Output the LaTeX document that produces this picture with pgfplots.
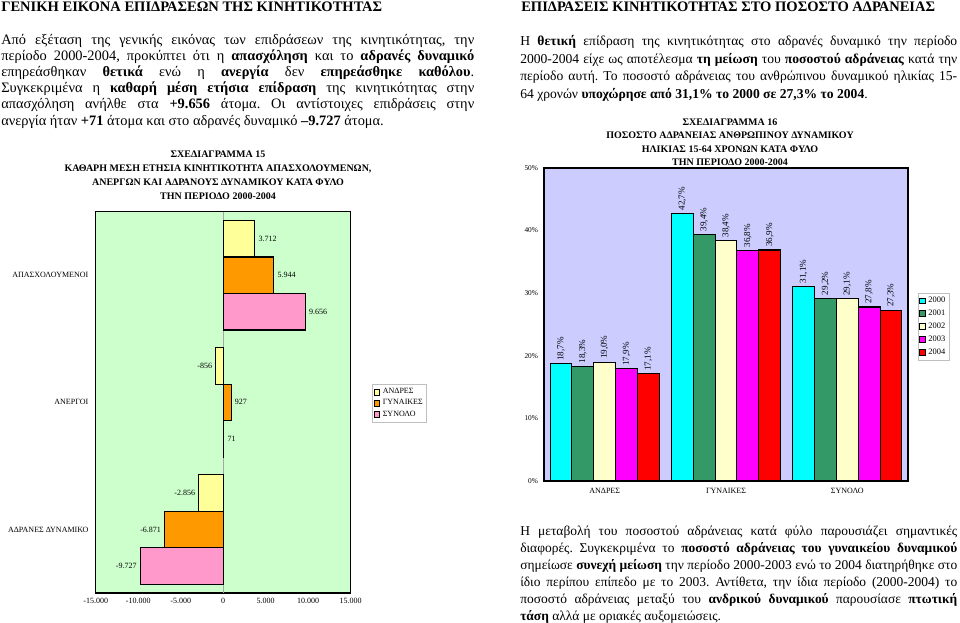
\documentclass[border=0pt]{standalone}
\usepackage{pgfplots}
\pgfplotsset{compat=1.18}
\usepackage{fontspec}
\setmainfont{Liberation Serif}
\frenchspacing
\definecolor{bgA}{HTML}{CCFFCC}
\definecolor{cAnd}{HTML}{FFFF99}
\definecolor{cGyn}{HTML}{FF9900}
\definecolor{cSyn}{HTML}{FF99CC}
\definecolor{bgB}{HTML}{CCCCFF}
\definecolor{cA}{HTML}{00FFFF}
\definecolor{cB}{HTML}{339966}
\definecolor{cC}{HTML}{FFFFCC}
\definecolor{cD}{HTML}{FF00FF}
\definecolor{cE}{HTML}{FF0000}
\newcommand{\Ls}[1]{\makebox[354.75pt][s]{#1}}
\newcommand{\Rs}[1]{\makebox[327.75pt][s]{#1}}
\begin{document}
\begin{tikzpicture}[x=0.75pt,y=-0.75pt]
\useasboundingbox (0,0) rectangle (960,622);
% ---------- page titles
\node[anchor=north west,inner sep=0,font=\fontsize{10.9}{12}\selectfont\bfseries] at (1,2) {ΓΕΝΙΚΗ ΕΙΚΟΝΑ ΕΠΙΔΡΑΣΕΩΝ ΤΗΣ ΚΙΝΗΤΙΚΟΤΗΤΑΣ};
\node[anchor=north west,inner sep=0,font=\fontsize{10.9}{12}\selectfont\bfseries] at (521,2) {ΕΠΙΔΡΑΣΕΙΣ ΚΙΝΗΤΙΚΟΤΗΤΑΣ ΣΤΟ ΠΟΣΟΣΤΟ ΑΔΡΑΝΕΙΑΣ};
% ---------- left paragraph
\node[anchor=north west,inner sep=0,align=left,font=\fontsize{10.8}{12.1}\selectfont] at (1,34) {%
\Ls{Από εξέταση της γενικής εικόνας των επιδράσεων της κινητικότητας, την}\\
\Ls{περίοδο 2000-2004, προκύπτει ότι η \textbf{απασχόληση} και το \textbf{αδρανές δυναμικό}}\\
\Ls{επηρεάσθηκαν \textbf{θετικά} ενώ η \textbf{ανεργία} δεν \textbf{επηρεάσθηκε καθόλου}.}\\
\Ls{Συγκεκριμένα η \textbf{καθαρή μέση ετήσια επίδραση} της κινητικότητας στην}\\
\Ls{απασχόληση ανήλθε στα \textbf{+9.656} άτομα. Οι αντίστοιχες επιδράσεις στην}\\
ανεργία ήταν \textbf{+71} άτομα και στο αδρανές δυναμικό \textbf{–9.727} άτομα.};
% ---------- right paragraph
\node[anchor=north west,inner sep=0,align=left,font=\fontsize{10.2}{13.3}\selectfont] at (520,35) {%
\Rs{Η \textbf{θετική} επίδραση της κινητικότητας στο αδρανές δυναμικό την περίοδο}\\
\Rs{2000-2004 είχε ως αποτέλεσμα \textbf{τη μείωση} του \textbf{ποσοστού αδράνειας} κατά την}\\
\Rs{περίοδο αυτή. Το ποσοστό αδράνειας του ανθρώπινου δυναμικού ηλικίας 15-}\\
64 χρονών \textbf{υποχώρησε από 31,1\% το 2000 σε 27,3\% το 2004}.};
% ---------- bottom right paragraph
\node[anchor=north west,inner sep=0,align=left,font=\fontsize{10.1}{12.75}\selectfont] at (520,525.5) {%
\Rs{Η μεταβολή του ποσοστού αδράνειας κατά φύλο παρουσιάζει σημαντικές}\\
\Rs{διαφορές. Συγκεκριμένα το \textbf{ποσοστό αδράνειας του γυναικείου δυναμικού}}\\
\Rs{σημείωσε \textbf{συνεχή μείωση} την περίοδο 2000-2003 ενώ το 2004 διατηρήθηκε στο}\\
\Rs{ίδιο περίπου επίπεδο με το 2003. Αντίθετα, την ίδια περίοδο (2000-2004) το}\\
\Rs{ποσοστό αδράνειας μεταξύ του \textbf{ανδρικού δυναμικού} παρουσίασε \textbf{πτωτική}}\\
\textbf{τάση} αλλά με οριακές αυξομειώσεις.};
% ---------- chart titles
\node[anchor=north,inner sep=0,align=center,font=\fontsize{7.5}{10.5}\selectfont\bfseries] at (218,150.5) {ΣΧΕΔΙΑΓΡΑΜΜΑ 15\\ΚΑΘΑΡΗ ΜΕΣΗ ΕΤΗΣΙΑ ΚΙΝΗΤΙΚΟΤΗΤΑ ΑΠΑΣΧΟΛΟΥΜΕΝΩΝ,\\ΑΝΕΡΓΩΝ ΚΑΙ ΑΔΡΑΝΟΥΣ ΔΥΝΑΜΙΚΟΥ ΚΑΤΑ ΦΥΛΟ\\ΤΗΝ ΠΕΡΙΟΔΟ 2000-2004};
\node[anchor=north,inner sep=0,align=center,font=\fontsize{7.5}{10}\selectfont\bfseries] at (730,118.5) {ΣΧΕΔΙΑΓΡΑΜΜΑ 16\\ΠΟΣΟΣΤΟ ΑΔΡΑΝΕΙΑΣ ΑΝΘΡΩΠΙΝΟΥ ΔΥΝΑΜΙΚΟΥ\\ΗΛΙΚΙΑΣ 15-64 ΧΡΟΝΩΝ ΚΑΤΑ ΦΥΛΟ\\ΤΗΝ ΠΕΡΙΟΔΟ 2000-2004};
% ---------- chart 15
\begin{axis}[
  at={(71.775pt,-158.775pt)}, anchor=north west,
  scale only axis, width=191.25pt, height=286pt,
  xmin=-15000, xmax=15000, ymin=-0.5, ymax=2.5,
  xbar, bar width=0.287,
  axis background/.style={fill=bgA},
  axis line style={black,line width=0.9pt},
  xtick={-15000,-10000,-5000,0,5000,10000,15000},
  scaled x ticks=false,
  /pgf/number format/.cd, 1000 sep={.}, assume math mode=true, /pgfplots/.cd,
  ytick={0,1,2},
  yticklabels={ΑΔΡΑΝΕΣ ΔΥΝΑΜΙΚΟ,ΑΝΕΡΓΟΙ,ΑΠΑΣΧΟΛΟΥΜΕΝΟΙ},
  major tick length=0pt,
  tick label style={font=\fontsize{6}{7}\selectfont},
  yticklabel style={xshift=-2pt},
  extra x ticks={0}, extra x tick labels={},
  extra x tick style={grid=major, major grid style={gray!70,line width=0.4pt}},
  point meta=x,
  nodes near coords,
  nodes near coords align={horizontal},
  every node near coord/.append style={font=\fontsize{6}{7}\selectfont, inner sep=2.5pt},
  legend style={at={(1.0836,0.548)}, anchor=north west, draw=gray!50,
    font=\fontsize{6}{7}\selectfont, legend cell align=left,
    inner sep=1pt, row sep=-1pt},
  legend image code/.code={\draw[#1,draw=black,line width=0.5pt] (0pt,-2.2pt) rectangle (4.4pt,2.2pt);},
  clip=false,
]
\addplot[fill=cAnd, draw=black, line width=0.8pt, bar shift=0.287] coordinates {(3712,2) (-856,1) (-2856,0)};
\addplot[fill=cGyn, draw=black, line width=0.8pt, bar shift=0] coordinates {(5944,2) (927,1) (-6871,0)};
\addplot[fill=cSyn, draw=black, line width=0.8pt, bar shift=-0.287] coordinates {(9656,2) (71,1) (-9727,0)};
\legend{ΑΝΔΡΕΣ,ΓΥΝΑΙΚΕΣ,ΣΥΝΟΛΟ}
\end{axis}
% ---------- chart 16
\begin{axis}[
  at={(408pt,-126pt)}, anchor=north west,
  scale only axis, width=273pt, height=234.75pt,
  xmin=-0.5, xmax=2.5, ymin=0, ymax=50,
  ybar, bar width=0.18,
  axis background/.style={fill=bgB},
  axis line style={black,line width=0.9pt},
  xtick={0,1,2}, xticklabels={ΑΝΔΡΕΣ,ΓΥΝΑΙΚΕΣ,ΣΥΝΟΛΟ},
  ytick={0,10,20,30,40,50},
  yticklabel={\pgfmathprintnumber{\tick}\%},
  /pgf/number format/assume math mode=true,
  major tick length=0pt,
  xticklabel style={font=\fontsize{6}{7}\selectfont, yshift=-2pt},
  yticklabel style={font=\fontsize{5.5}{6}\selectfont, xshift=-1pt},
  nodes near coords={\pgfmathprintnumber[fixed,fixed zerofill,precision=1,use comma]{\pgfplotspointmeta}\%},
  every node near coord/.append style={rotate=90, anchor=west, font=\fontsize{6.8}{7}\selectfont, inner sep=2pt},
  legend style={at={(1.0266,0.6016)}, anchor=north west, draw=gray!50,
    font=\fontsize{6.3}{7}\selectfont, legend cell align=left,
    inner sep=1pt, row sep=0pt},
  legend image code/.code={\draw[#1,draw=black,line width=0.5pt] (0pt,-2.2pt) rectangle (4.4pt,2.2pt);},
  clip=false,
]
\addplot[fill=cA, draw=black, line width=0.8pt, bar shift=-0.36] coordinates {(0,18.7) (1,42.7) (2,31.1)};
\addplot[fill=cB, draw=black, line width=0.8pt, bar shift=-0.18] coordinates {(0,18.3) (1,39.4) (2,29.2)};
\addplot[fill=cC, draw=black, line width=0.8pt, bar shift=0] coordinates {(0,19.0) (1,38.4) (2,29.1)};
\addplot[fill=cD, draw=black, line width=0.8pt, bar shift=0.18] coordinates {(0,17.9) (1,36.8) (2,27.8)};
\addplot[fill=cE, draw=black, line width=0.8pt, bar shift=0.36] coordinates {(0,17.1) (1,36.9) (2,27.3)};
\legend{2000,2001,2002,2003,2004}
\end{axis}
\end{tikzpicture}
\end{document}
